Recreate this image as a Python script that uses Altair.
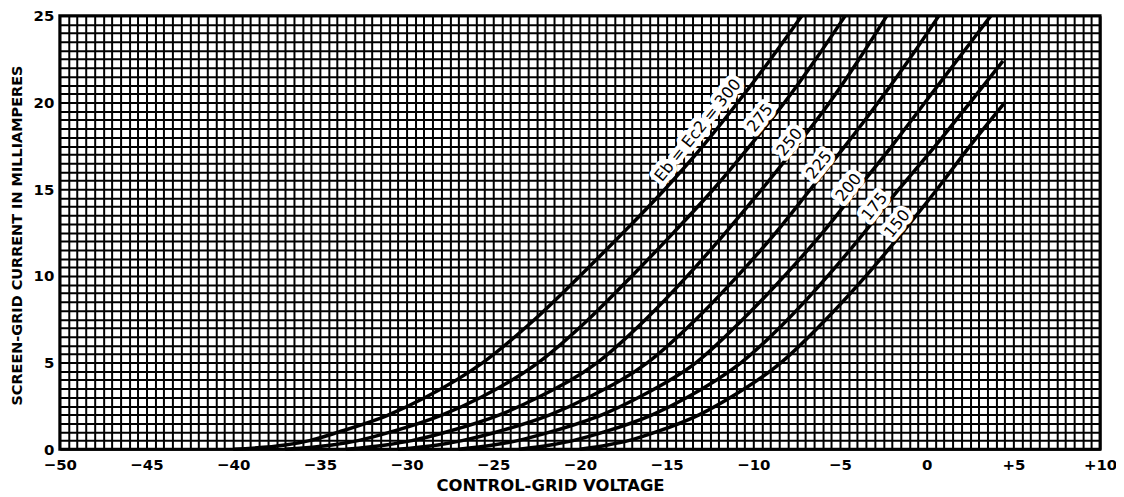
import altair as alt
import pandas as pd

# Screen-grid current (mA) vs control-grid voltage (V), one curve per Eb = Ec2
i_full = [0, 0.25, 0.5, 1, 2, 3, 5, 7.5, 10, 12.5, 15, 17.5, 20, 22.5, 25]
e_300 = [-40, -37.0, -35.6, -33.9, -31.0, -28.9, -25.6, -22.6, -20.0, -17.5, -15.1, -12.9, -10.9, -9.0, -7.2]
e_275 = [-37, -34.3, -32.8, -30.9, -27.9, -25.7, -22.4, -19.5, -17.0, -14.6, -12.3, -10.2, -8.2, -6.4, -4.7]
e_250 = [-33.5, -31.2, -29.7, -27.7, -24.6, -22.4, -19.0, -16.2, -13.8, -11.6, -9.5, -7.5, -5.6, -3.9, -2.3]
e_225 = [-30.5, -28.2, -26.8, -24.8, -21.7, -19.5, -16.1, -13.3, -10.9, -8.7, -6.7, -4.7, -2.8, -1.0, 0.7]
e_200 = [-27, -25.0, -23.6, -21.7, -18.7, -16.6, -13.3, -10.6, -8.2, -6.0, -4.0, -2.0, -0.1, 1.8, 3.7]
i_175 = [0, 0.25, 0.5, 1, 2, 3, 5, 7.5, 10, 12.5, 15, 17.5, 20, 22.4]
e_175 = [-23.5, -21.7, -20.4, -18.6, -15.8, -13.8, -10.7, -8.0, -5.7, -3.6, -1.6, 0.5, 2.5, 4.4]
i_150 = [0, 0.25, 0.5, 1, 2, 3, 5, 7.5, 10, 12.5, 15, 17.5, 20]
e_150 = [-20, -18.4, -17.2, -15.6, -13.1, -11.3, -8.4, -5.8, -3.5, -1.4, 0.6, 2.5, 4.5]

curves = [
    ("300", e_300, i_full),
    ("275", e_275, i_full),
    ("250", e_250, i_full),
    ("225", e_225, i_full),
    ("200", e_200, i_full),
    ("175", e_175, i_175),
    ("150", e_150, i_150),
]

# Curve labels
lab_text = ["Eb = Ec2 = 300", "275", "250", "225", "200", "175", "150"]
lab_e = [-13.2, -9.6, -7.9, -6.2, -4.5, -3.0, -1.7]
lab_i = [18.4, 19.1, 17.7, 16.4, 15.1, 14.0, 13.0]

# Axis ticks
x_tick_values = [-50, -45, -40, -35, -30, -25, -20, -15, -10, -5, 0, 5, 10]
x_tick_labels = ["−50", "−45", "−40", "−35", "−30", "−25", "−20", "−15", "−10", "−5", "0", "+5", "+10"]
y_tick_values = [0, 5, 10, 15, 20, 25]
y_tick_labels = ["0", "5", "10", "15", "20", "25"]
x_grid = [-50 + 0.5 * k for k in range(121)]
y_grid = [0.5 * k for k in range(51)]

rows = []
for name, es, is_ in curves:
    for e, i in zip(es, is_):
        rows.append({"curve": name, "E": e, "I": i})
df = pd.DataFrame(rows)
lab_df = pd.DataFrame({"label": lab_text, "E": lab_e, "I": lab_i})


def label_expr(values, labels):
    expr = "''"
    for v, l in reversed(list(zip(values, labels))):
        expr = f"datum.value == {v} ? '{l}' : ({expr})"
    return expr


FONT = "DejaVu Sans"
x_enc = alt.X(
    "E:Q",
    scale=alt.Scale(domain=[-50, 10], nice=False, zero=False),
    axis=alt.Axis(
        values=x_grid,
        labelExpr=label_expr(x_tick_values, x_tick_labels),
        grid=True, gridColor="black", gridWidth=2, gridOpacity=1,
        ticks=False, domain=False,
        labelFont=FONT, labelFontWeight="bold", labelFontSize=15, labelColor="black",
        labelPadding=8, labelOverlap=False, labelFlush=False,
        title="CONTROL-GRID VOLTAGE", titleFont=FONT, titleFontSize=16.5,
        titleFontWeight="bold", titleColor="black",
        titleX=492, titleY=36, titleAlign="center", titleBaseline="middle",
    ),
)
y_enc = alt.Y(
    "I:Q",
    scale=alt.Scale(domain=[0, 25], nice=False, zero=False),
    axis=alt.Axis(
        values=y_grid,
        labelExpr=label_expr(y_tick_values, y_tick_labels),
        grid=True, gridColor="black", gridWidth=2, gridOpacity=1,
        ticks=False, domain=False,
        labelFont=FONT, labelFontWeight="bold", labelFontSize=15, labelColor="black",
        labelPadding=6, labelOverlap=False, labelFlush=False,
        title="SCREEN-GRID CURRENT IN MILLIAMPERES", titleFont=FONT, titleFontSize=14.5,
        titleFontWeight="bold", titleColor="black", titleAngle=270,
        titleX=-42, titleY=220, titleAlign="center", titleBaseline="middle",
    ),
)

lines = alt.Chart(df).mark_line(
    color="black", strokeWidth=3.5, interpolate="monotone"
).encode(x=x_enc, y=y_enc, detail="curve:N", order="I:Q")

halo = alt.Chart(lab_df).mark_text(
    font=FONT, fontSize=16, angle=309, color="white", stroke="white",
    strokeWidth=9, strokeJoin="round", align="center", baseline="middle",
).encode(x=x_enc, y=y_enc, text="label:N")

texts = alt.Chart(lab_df).mark_text(
    font=FONT, fontSize=16, angle=309, color="black",
    align="center", baseline="middle",
).encode(x=x_enc, y=y_enc, text="label:N")

chart = alt.layer(lines, halo, texts).properties(
    width=1044, height=435,
    padding={"left": 52, "top": 7, "right": 16, "bottom": 46},
    autosize=alt.AutoSizeParams(type="none"),
    background="white",
).configure_view(stroke="black", strokeWidth=3)

chart.save("out.html", embed_options={"renderer": "svg", "actions": False})
